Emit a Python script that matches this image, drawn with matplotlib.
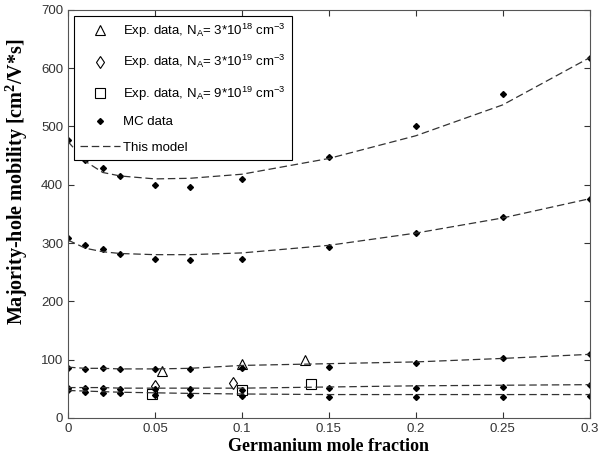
import numpy as np
import matplotlib
matplotlib.use("Agg")
import matplotlib.pyplot as plt

plt.rcParams["font.family"] = ["Liberation Sans", "DejaVu Sans"]
plt.rcParams["mathtext.default"] = "regular"

# MC data (x positions shared by all five doping levels)
x_mc = [0, 0.01, 0.02, 0.03, 0.05, 0.07, 0.1, 0.15, 0.2, 0.25, 0.3]
mc_1 = [477, 443, 429, 415, 399, 396, 409, 448, 500, 555, 618]
mc_2 = [309, 297, 290, 281, 273, 270, 273, 293, 317, 345, 376]
mc_3 = [86, 84, 85, 84, 84, 84, 86, 88, 94, 102, 109]
mc_4 = [51, 51, 51, 50, 50, 50, 48, 51, 51, 53, 56]
mc_5 = [47, 45, 43, 42, 40, 40, 38, 35, 35, 35, 38]

# model curves
x_model = [0, 0.01, 0.02, 0.03, 0.05, 0.07, 0.1, 0.15, 0.2, 0.25, 0.3]
model_1 = [474, 440, 421, 415, 410, 411, 418, 445, 484, 537, 618]
model_2 = [305, 291, 285, 282, 280, 280, 283, 296, 317, 343, 376]
model_3 = [87, 85, 85, 84, 84, 85, 90, 93, 96, 102, 109]
model_4 = [52, 52, 52, 51, 51, 51, 51, 53, 55, 56, 57]
model_5 = [47, 46, 45, 44, 43, 42, 41, 40, 40, 40, 40]

# experimental data
x_tri = [0.054, 0.1, 0.136]
y_tri = [81, 92, 99.5]
x_dia = [0.05, 0.095]
y_dia = [55, 59.5]
x_sq = [0.048, 0.1, 0.14]
y_sq = [41, 47.5, 58]

fig = plt.figure(figsize=(6.13, 4.69), dpi=100)
ax = fig.add_axes([0.111, 0.109, 0.851, 0.870])

ax.plot(x_tri, y_tri, "^", color="black", mfc="none", ms=6.5, mew=0.8,
        label=r"Exp. data, N$_A$= 3*10$^{18}$ cm$^{-3}$")
ax.plot(x_dia, y_dia, "d", color="black", mfc="none", ms=6.5, mew=0.8,
        label=r"Exp. data, N$_A$= 3*10$^{19}$ cm$^{-3}$")
ax.plot(x_sq, y_sq, "s", color="black", mfc="none", ms=6.5, mew=0.8,
        label=r"Exp. data, N$_A$= 9*10$^{19}$ cm$^{-3}$")

mc_sets = [mc_1, mc_2, mc_3, mc_4, mc_5]
model_sets = [model_1, model_2, model_3, model_4, model_5]
for i, ys in enumerate(mc_sets):
    ax.plot(x_mc, ys, "D", color="black", ms=3, ls="none",
            label="MC data" if i == 0 else None)
for i, ys in enumerate(model_sets):
    ax.plot(x_model, ys, "--", color="#333333", lw=0.9, dashes=(6, 3),
            label="This model" if i == 0 else None)

ax.set_xlim(0, 0.3)
ax.set_ylim(0, 700)
ax.set_xticks([0, 0.05, 0.1, 0.15, 0.2, 0.25, 0.3])
ax.set_xticklabels(["0", "0.05", "0.1", "0.15", "0.2", "0.25", "0.3"])
ax.set_yticks(range(0, 701, 100))
ax.tick_params(direction="in", top=True, right=True, labelsize=9.5, length=4,
               colors="#333333")
for s in ax.spines.values():
    s.set_linewidth(0.8)
    s.set_color("#555555")

ax.set_xlabel("Germanium mole fraction", family="Liberation Serif",
              fontweight="bold", fontsize=13, labelpad=2)
ax.set_ylabel(r"Majority-hole mobility [cm$^2$/V*s]", family="Liberation Serif",
              fontweight="bold", fontsize=14.5)
ax.yaxis.set_label_coords(-0.072, 0.578)

leg = ax.legend(loc="upper left", fontsize=9.5, labelspacing=1.0, handlelength=3.0,
                fancybox=False, framealpha=1, edgecolor="black",
                borderaxespad=0.45, handletextpad=0.3, borderpad=0.45)
leg.get_frame().set_linewidth(0.8)

fig.savefig("out.png", dpi=100)
